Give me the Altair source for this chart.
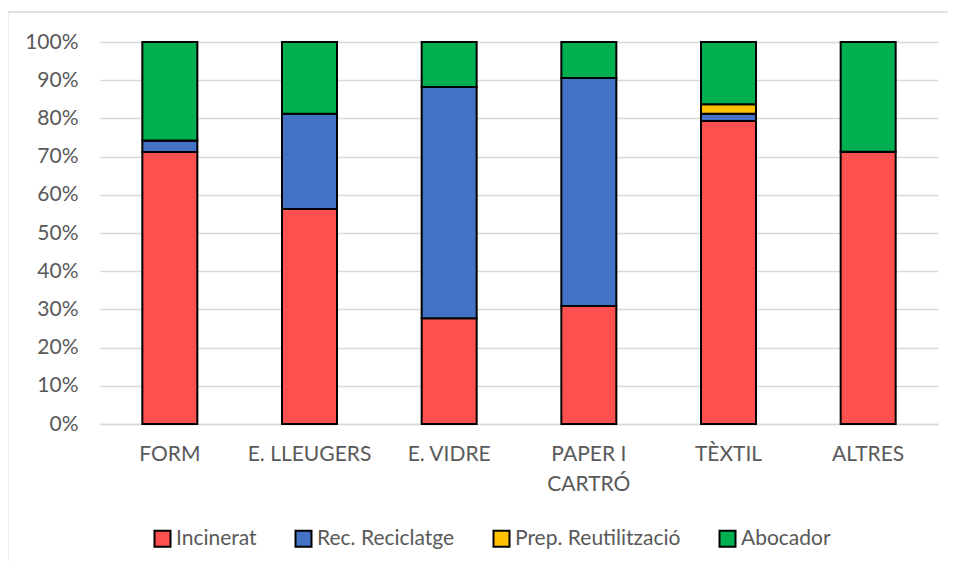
import altair as alt
import pandas as pd

categories = ["FORM", "E. LLEUGERS", "E. VIDRE", "PAPER I CARTRÓ", "TÈXTIL", "ALTRES"]
series = ["Incinerat", "Rec. Reciclatge", "Prep. Reutilització", "Abocador"]
incinerat = [71.2, 56.3, 27.7, 30.9, 79.3, 71.3]
reciclatge = [3.0, 24.9, 60.5, 59.7, 1.9, 0.0]
reutilitzacio = [0.0, 0.0, 0.0, 0.0, 2.5, 0.0]
abocador = [25.8, 18.8, 11.8, 9.4, 16.3, 28.7]
colors = ["#FF5050", "#4472C4", "#FFC000", "#00B050"]

rows = []
for i, c in enumerate(categories):
    for j, (s, vals) in enumerate(zip(series, [incinerat, reciclatge, reutilitzacio, abocador])):
        rows.append({"cat": c, "serie": s, "val": vals[i] / 100.0, "ord": j})
df = pd.DataFrame(rows)

font = "Lato"
fs = 21

bars = alt.Chart(df).mark_bar(stroke="black", strokeWidth=2, size=55).encode(
    x=alt.X("cat:N", sort=categories, title=None,
            scale=alt.Scale(paddingInner=0.6, paddingOuter=0.3),
            axis=alt.Axis(labelAngle=0, labelPadding=19, ticks=False, domain=True,
                          domainColor="#d9d9d9", domainWidth=1.5,
                          labelExpr="datum.label == 'PAPER I CARTRÓ' ? ['PAPER I', 'CARTRÓ'] : datum.label",
                          labelLineHeight=30)),
    y=alt.Y("val:Q", stack="zero", title=None,
            scale=alt.Scale(domain=[0, 1], nice=False),
            axis=alt.Axis(format=".0%", values=[i / 10 for i in range(11)], domain=False, ticks=False,
                          labelPadding=22, gridColor="#d9d9d9", gridWidth=1.5)),
    color=alt.Color("serie:N", sort=series, scale=alt.Scale(domain=series, range=colors),
                    legend=alt.Legend(title=None, orient="none", direction="horizontal",
                                      legendX=52, legendY=486, symbolType="square", symbolSize=256,
                                      symbolStrokeColor="black", symbolStrokeWidth=2,
                                      columnPadding=34, labelOffset=3, labelLimit=400)),
    order=alt.Order("ord:Q"),
)

frame_df = pd.DataFrame({"k": [0]})
top_border = alt.Chart(frame_df).mark_rule(color="#d9d9d9", strokeWidth=1.5).encode(
    x=alt.value(-92), x2=alt.value(900), y=alt.value(-30)
)
left_border = alt.Chart(frame_df).mark_rule(color="#d9d9d9", strokeWidth=1.5).encode(
    x=alt.value(-92.3), y=alt.value(-30), y2=alt.value(600)
)

chart = alt.layer(bars, top_border, left_border).properties(
    width=838, height=382,
    autosize=alt.AutoSizeParams(type="none"),
    padding={"left": 92, "top": 34, "right": 10, "bottom": 137},
).configure_view(stroke=None).configure_axis(
    labelFont=font, labelFontSize=fs, labelColor="#595959"
).configure_legend(
    labelFont=font, labelFontSize=fs, labelColor="#595959"
)

chart.save("out.html", embed_options={"renderer": "svg", "actions": False})
